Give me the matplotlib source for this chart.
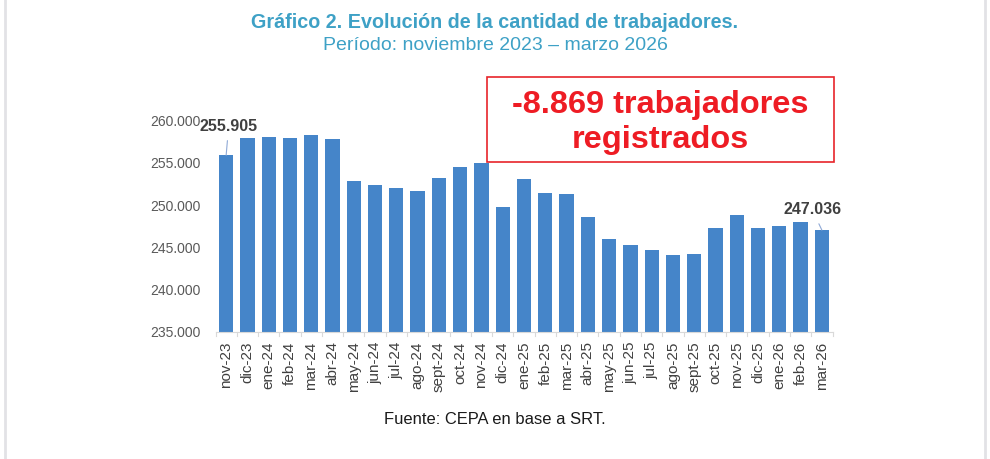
import matplotlib
matplotlib.use("Agg")
import matplotlib.pyplot as plt
from matplotlib.lines import Line2D
from matplotlib.patches import Rectangle
import numpy as np

plt.rcParams['font.family'] = ['Liberation Sans', 'DejaVu Sans']

months = ["nov-23", "dic-23", "ene-24", "feb-24", "mar-24", "abr-24", "may-24", "jun-24",
          "jul-24", "ago-24", "sept-24", "oct-24", "nov-24", "dic-24", "ene-25", "feb-25",
          "mar-25", "abr-25", "may-25", "jun-25", "jul-25", "ago-25", "sept-25", "oct-25",
          "nov-25", "dic-25", "ene-26", "feb-26", "mar-26"]
workers = [255905, 257990, 258030, 258000, 258340, 257830, 252860, 252380,
           252030, 251640, 253210, 254550, 254990, 249810, 253055, 251430,
           251310, 248550, 246020, 245310, 244680, 244090, 244240, 247290,
           248830, 247290, 247520, 247960, 247036]
yticks = [235000, 240000, 245000, 250000, 255000, 260000]

def fmt(v):
    return f"{v:,}".replace(",", ".")

fig = plt.figure(figsize=(9.9, 4.59), dpi=100)
W, H = 990, 459
ax = fig.add_axes([215.5 / W, 1 - 331.7 / H, (832.5 - 215.5) / W, (331.7 - 120.7) / H])

x = np.arange(len(months))
ax.bar(x, workers, width=0.67, color="#4585c9", zorder=2)
ax.set_ylim(235000, 260000)
ax.set_xlim(-0.5, len(months) - 0.5)
ax.set_yticks(yticks)
ax.set_yticklabels([fmt(v) for v in yticks], fontsize=10, color="#595959")
ax.set_xticks(x)
ax.set_xticklabels(months, rotation=90, fontsize=11, color="#404040")
ax.tick_params(axis="y", length=0, pad=11)
ax.tick_params(axis="x", length=0, pad=7)
for s in ["top", "right", "left"]:
    ax.spines[s].set_visible(False)
ax.spines["bottom"].set_color("#d9d9d9")
ax.spines["bottom"].set_linewidth(0.8)
for b in np.arange(-0.5, len(months), 1.0):
    ax.plot([b, b], [235000, 234500], color="#d9d9d9", lw=0.8, clip_on=False)

# data labels
ax.annotate(fmt(workers[0]), xy=(0, workers[0]), xytext=(0.12, 259350),
            ha="center", va="center", fontsize=11.5, fontweight="bold", color="#404040",
            annotation_clip=False,
            arrowprops=dict(arrowstyle="-", color="#8fa9d6", lw=0.8, shrinkA=3, shrinkB=0))
last = len(months) - 1
ax.annotate(fmt(workers[last]), xy=(last, workers[last]), xytext=(last - 0.45, 249450),
            ha="center", va="center", fontsize=11.5, fontweight="bold", color="#404040",
            annotation_clip=False,
            arrowprops=dict(arrowstyle="-", color="#8fa9d6", lw=0.8, shrinkA=3, shrinkB=0))

# red box
fig.patches.append(Rectangle((487 / W, 1 - 162 / H), (834 - 487) / W, (162 - 77) / H,
                             transform=fig.transFigure, facecolor="white",
                             edgecolor="#e8242a", lw=1.2, zorder=5))
fig.text(660 / W, 1 - 105 / H, "-8.869 trabajadores", ha="center", va="center",
         fontsize=23.4, fontweight="bold", color="#ee1c24", zorder=6)
fig.text(660 / W, 1 - 140 / H, "registrados", ha="center", va="center",
         fontsize=23.4, fontweight="bold", color="#ee1c24", zorder=6)

# titles
fig.text(495 / W, 1 - 22 / H, "Gráfico 2. Evolución de la cantidad de trabajadores.",
         ha="center", va="center", fontsize=14.2, fontweight="bold", color="#3ea1c6")
fig.text(495 / W, 1 - 45 / H, "Período: noviembre 2023 – marzo 2026",
         ha="center", va="center", fontsize=14, color="#3ea1c6")
fig.text(495 / W, 1 - 420 / H, "Fuente: CEPA en base a SRT.",
         ha="center", va="center", fontsize=11.9, color="#1a1a1a")

# faint side borders
for xp in (5, 985):
    fig.add_artist(Line2D([xp / W, xp / W], [0, 1], transform=fig.transFigure,
                          color="#e2e2e6", lw=2))

fig.savefig("out.png", dpi=100, facecolor="white")
